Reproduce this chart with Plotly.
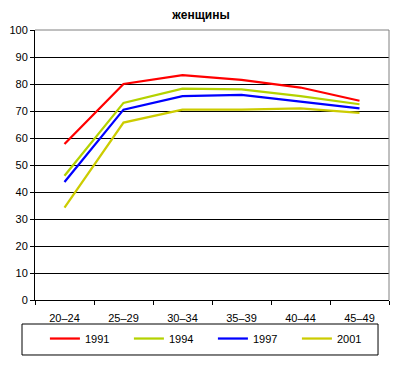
import plotly.graph_objects as go

categories = ["20–24", "25–29", "30–34", "35–39", "40–44", "45–49"]
years = ["1991", "1994", "1997", "2001"]
v1991 = [57.8, 80.0, 83.3, 81.5, 78.7, 73.8]
v1994 = [46.0, 73.0, 78.3, 78.0, 75.5, 72.5]
v1997 = [43.7, 70.5, 75.5, 76.0, 73.5, 71.0]
v2001 = [34.2, 65.7, 70.5, 70.5, 71.0, 69.3]
colors = ["#FF0000", "#B4D200", "#0000FF", "#CCCC00"]
series = [v1991, v1994, v1997, v2001]

fig = go.Figure()
for name, vals, col in zip(years, series, colors):
    fig.add_trace(go.Scatter(x=categories, y=vals, name=name, mode="lines",
                             line=dict(color=col, width=2.25)))

fig.update_layout(
    width=400, height=365,
    margin=dict(l=27, r=19, t=22, b=73, autoexpand=False),
    paper_bgcolor="white", plot_bgcolor="white",
    font=dict(family="Liberation Sans, Arial, sans-serif", size=11, color="black"),
    title=dict(text="<b>женщины</b>", x=0.4825, xanchor="center", y=0.992, yanchor="top",
               pad=dict(t=0, b=0, l=0, r=0),
               font=dict(size=12, color="black")),
    showlegend=True,
    legend=dict(orientation="h", x=0.028, y=-0.089, xanchor="left", yanchor="top",
                borderwidth=0, bgcolor="rgba(0,0,0,0)",
                entrywidth=39, entrywidthmode="pixels",
                font=dict(size=11), itemwidth=30,
                traceorder="normal"),
    xaxis=dict(type="category", showgrid=False, showline=True, linecolor="black", linewidth=1,
               ticks="outside", tickson="boundaries", ticklen=4, tickcolor="black",
               ticklabelstandoff=8,
               range=[-0.5, 5.5], fixedrange=True),
    yaxis=dict(range=[0, 100], dtick=10, showgrid=True, gridcolor="black", gridwidth=1,
               showline=True, linecolor="black", linewidth=1, ticks="outside", ticklen=4,
               tickcolor="black", zeroline=False, fixedrange=True),
)
fig.add_shape(type="line", xref="paper", yref="paper", x0=1, x1=1, y0=0, y1=1,
              line=dict(color="#808080", width=1))
fig.add_shape(type="line", xref="paper", yref="paper", x0=0, x1=1, y0=1, y1=1,
              line=dict(color="#808080", width=1))
fig.add_shape(type="rect", xref="paper", yref="paper", x0=-0.0367, x1=0.969,
              y0=-0.0889, y1=-0.2037, line=dict(color="black", width=1))
fig.write_html("out.html")
